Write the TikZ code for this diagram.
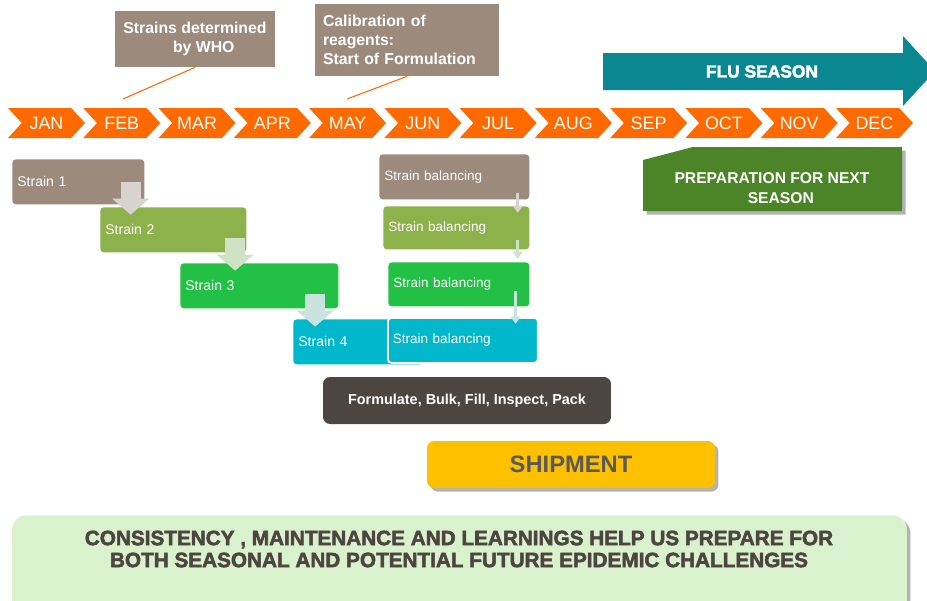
\documentclass[tikz,border=0pt]{standalone}
\usepackage{fontspec}
\setmainfont{Liberation Sans}
\newfontfamily\heavyfont[FakeBold=2.5]{Liberation Sans Bold}
\usepackage{xcolor}
\definecolor{chevron}{HTML}{FF6A00}
\definecolor{taupe}{HTML}{9C8B7C}
\definecolor{olive}{HTML}{8DB24C}
\definecolor{leaf}{HTML}{22C145}
\definecolor{aqua}{HTML}{00B7CB}
\definecolor{fluteal}{HTML}{0A8892}
\definecolor{cocoa}{HTML}{4D4540}
\definecolor{amber}{HTML}{FFC000}
\definecolor{shipgray}{HTML}{595959}
\definecolor{moss}{HTML}{4C8527}
\definecolor{mint}{HTML}{D9F1CD}
\definecolor{pale1}{HTML}{D8D3CE}
\definecolor{pale2}{HTML}{CFE2C6}
\definecolor{pale3}{HTML}{C9E2DD}
\usetikzlibrary{arrows.meta, positioning, shapes.symbols, shadows}

\begin{document}
\begin{tikzpicture}[
  x=0.02cm, y=-0.02cm,
  month/.style={signal, signal to=east, signal from=west, signal pointer angle=95,
    fill=chevron, text=white, minimum width=1.54cm, minimum height=0.6cm,
    inner sep=0pt, font=\fontsize{10.2}{12}\selectfont},
  callout/.style={fill=taupe, text=white, inner sep=0pt,
    font=\bfseries\fontsize{9}{11}\selectfont},
  callline/.style={draw=chevron, line width=0.6pt},
  strainbox/.style={rectangle, rounded corners=2pt, anchor=north west, text=white,
    inner xsep=0.1cm, inner ysep=0pt, align=left, minimum height=0.9cm,
    font=\fontsize{8}{9.6}\selectfont},
  balbox/.style={strainbox, font=\fontsize{7.7}{9.2}\selectfont},
  blockarrow/.style={line width=0.4cm, -{Triangle[length=0.32cm, width=0.72cm]}},
  thinarrow/.style={line width=0.06cm, -{Triangle[length=0.14cm, width=0.2cm]}},
  softshadow/.style={drop shadow={shadow xshift=2pt, shadow yshift=-2pt, opacity=0.3, fill=black}}
]
\clip (0,0) rectangle (927,600);

% Months
\foreach \m [count=\i from 0] in {JAN,FEB,MAR,APR,MAY,JUN,JUL,AUG,SEP,OCT,NOV,DEC}
  \node[month] (m\i) at (46.5+75.27*\i, 123) {\m};

% Callouts
\node[callout, minimum width=3.2cm, minimum height=1.12cm, align=center] (who) at (195,39) {Strains determined\\\hspace*{10pt}by WHO};
\node[callout, minimum width=3.68cm, minimum height=1.44cm, text width=3.36cm, align=left] (calib) at (407,40) {Calibration of\\reagents:\\Start of Formulation};
\coordinate (febpt) at (123,99);
\coordinate (maypt) at (347,99);
\draw[callline] (who.south) -- (febpt);
\draw[callline] (calib.south) -- (maypt);

% Flu season
\fill[fluteal] (603,53) -- (903,53) -- (903,36) -- (935,71) -- (903,106) -- (903,90) -- (603,90) -- cycle;
\node[text=white, font=\heavyfont\fontsize{9.9}{12}\selectfont] (flu) at (762,71.5) {FLU SEASON};

% Strains
\node[strainbox, fill=taupe, text width=2.44cm] (s1) at (12,159) {Strain 1};
\node[strainbox, fill=olive, text width=2.72cm] (s2) at (100,207) {Strain 2};
\node[strainbox, fill=leaf, text width=2.96cm] (s3) at (180,263) {Strain 3};
\node[strainbox, fill=aqua, text width=2.4cm] (s4) at (293,319) {Strain 4};

% Strain balancing
\node[balbox, fill=taupe, text width=2.8cm] (sb1) at (379,154) {Strain balancing};
\node[balbox, fill=olive, text width=2.72cm, minimum height=0.86cm] (sb2) at (383,206) {Strain balancing};
\node[balbox, fill=leaf, text width=2.62cm, minimum height=0.88cm] (sb3) at (388,262) {Strain balancing};
\node[balbox, fill=aqua, text width=2.8cm, draw=white, line width=1pt] (sb4) at (387,317) {Strain balancing};

% Arrows
\draw[blockarrow, draw=pale1, fill=pale1] ([shift={(-14,-23)}]s1.south east) -- ([shift={(-14,10)}]s1.south east);
\draw[blockarrow, draw=pale2, fill=pale2] ([shift={(-11.5,-15)}]s2.south east) -- ([shift={(-11.5,18)}]s2.south east);
\draw[blockarrow, draw=pale3, fill=pale3] ([shift={(-23.5,-15)}]s3.south east) -- ([shift={(-23.5,18)}]s3.south east);
\draw[thinarrow, draw=pale1, fill=pale1] ([shift={(-12,-7)}]sb1.south east) -- ([shift={(-12,13)}]sb1.south east);
\draw[thinarrow, draw=pale2, fill=pale2] ([shift={(-12,-10)}]sb2.south east) -- ([shift={(-12,9)}]sb2.south east);
\draw[thinarrow, draw=pale3, fill=pale3] ([shift={(-14,-16)}]sb3.south east) -- ([shift={(-14,17)}]sb3.south east);

% Preparation
\fill[moss, softshadow] (643,160) -- (693,147) -- (902,147) -- (902,211) -- (643,211) -- cycle;
\node[align=center, text=white, font=\bfseries\fontsize{8.9}{11.3}\selectfont] (prep) at (772,188) {PREPARATION FOR NEXT\\\hspace*{10pt}SEASON};

% Production
\node[fill=cocoa, rounded corners=4pt, minimum width=5.76cm, minimum height=0.94cm, text=white,
  font=\bfseries\fontsize{8.2}{10}\selectfont] (fill) at (467,400.5) {Formulate, Bulk, Fill, Inspect, Pack};
\node[fill=amber, rounded corners=4pt, minimum width=5.76cm, minimum height=0.94cm, text=shipgray,
  softshadow, font=\bfseries\fontsize{13.5}{16}\selectfont] (ship) at (571,464.5) {SHIPMENT};

% Message
\node[fill=mint, rounded corners=8pt, minimum width=17.9cm, minimum height=2.2cm, anchor=north,
  softshadow] (bg) at (459.5,515) {};
\node[text=cocoa, align=center, font=\heavyfont\fontsize{11.8}{12.5}\selectfont] (msg) at (459,549)
  {CONSISTENCY , MAINTENANCE AND LEARNINGS HELP US PREPARE FOR\\BOTH SEASONAL AND POTENTIAL FUTURE EPIDEMIC CHALLENGES};

\end{tikzpicture}
\end{document}
